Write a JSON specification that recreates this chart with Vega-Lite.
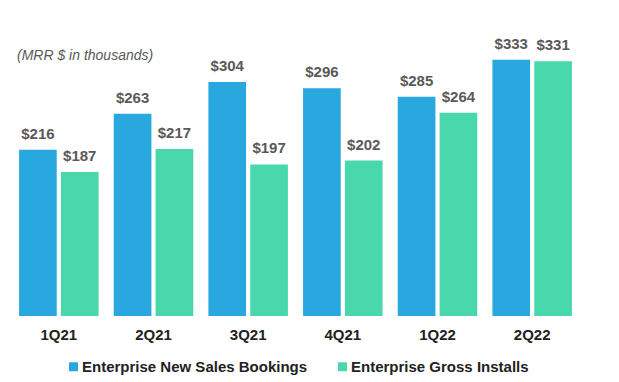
{
  "$schema": "https://vega.github.io/schema/vega-lite/v6.json",
  "width": 568,
  "height": 277,
  "autosize": {"type": "none"},
  "padding": {"left": 11.5, "top": 39, "right": 39.5, "bottom": 66},
  "background": "white",
  "title": {
    "text": "(MRR $ in thousands)",
    "anchor": "start",
    "frame": "group",
    "orient": "top",
    "offset": 0,
    "baseline": "alphabetic",
    "dx": 5.5,
    "dy": 37,
    "font": "Liberation Sans",
    "fontSize": 14,
    "fontStyle": "italic",
    "fontWeight": "normal",
    "color": "#595959"
  },
  "data": {
    "values": [
      {"q": "1Q21", "series": "Enterprise New Sales Bookings", "v": 216},
      {"q": "1Q21", "series": "Enterprise Gross Installs", "v": 187},
      {"q": "2Q21", "series": "Enterprise New Sales Bookings", "v": 263},
      {"q": "2Q21", "series": "Enterprise Gross Installs", "v": 217},
      {"q": "3Q21", "series": "Enterprise New Sales Bookings", "v": 304},
      {"q": "3Q21", "series": "Enterprise Gross Installs", "v": 197},
      {"q": "4Q21", "series": "Enterprise New Sales Bookings", "v": 296},
      {"q": "4Q21", "series": "Enterprise Gross Installs", "v": 202},
      {"q": "1Q22", "series": "Enterprise New Sales Bookings", "v": 285},
      {"q": "1Q22", "series": "Enterprise Gross Installs", "v": 264},
      {"q": "2Q22", "series": "Enterprise New Sales Bookings", "v": 333},
      {"q": "2Q22", "series": "Enterprise Gross Installs", "v": 331}
    ]
  },
  "encoding": {
    "x": {
      "field": "q",
      "type": "nominal",
      "sort": null,
      "scale": {"paddingInner": 0.16, "paddingOuter": 0.08},
      "axis": {
        "title": null,
        "labelAngle": 0,
        "domain": false,
        "ticks": false,
        "labelFont": "Liberation Sans",
        "labelFontSize": 15,
        "labelFontWeight": "bold",
        "labelColor": "#222222",
        "labelPadding": 11
      }
    },
    "xOffset": {
      "field": "series",
      "type": "nominal",
      "sort": ["Enterprise New Sales Bookings", "Enterprise Gross Installs"],
      "scale": {"paddingInner": 0.1, "paddingOuter": 0}
    },
    "y": {
      "field": "v",
      "type": "quantitative",
      "scale": {"domain": [0, 360], "nice": false},
      "axis": null
    }
  },
  "layer": [
    {
      "mark": {"type": "bar"},
      "encoding": {
        "color": {
          "field": "series",
          "type": "nominal",
          "sort": ["Enterprise New Sales Bookings", "Enterprise Gross Installs"],
          "scale": {
            "domain": ["Enterprise New Sales Bookings", "Enterprise Gross Installs"],
            "range": ["#29A8E0", "#48D8AC"]
          },
          "legend": {
            "title": null,
            "orient": "none",
            "direction": "horizontal",
            "legendX": 54.5,
            "legendY": 320,
            "symbolType": "square",
            "symbolSize": 81,
            "symbolStrokeWidth": 0,
            "symbolOpacity": 1,
            "labelFont": "Liberation Sans",
            "labelFontSize": 15,
            "labelFontWeight": "bold",
            "labelColor": "#222222",
            "labelOffset": 1,
            "labelLimit": 400,
            "columnPadding": 27
          }
        }
      }
    },
    {
      "mark": {
        "type": "text",
        "baseline": "alphabetic",
        "dy": -11,
        "font": "Liberation Sans",
        "fontSize": 15,
        "fontWeight": "bold",
        "color": "#595959"
      },
      "encoding": {
        "text": {"field": "v", "type": "quantitative", "format": "$d"}
      }
    }
  ],
  "config": {"view": {"stroke": null}}
}
